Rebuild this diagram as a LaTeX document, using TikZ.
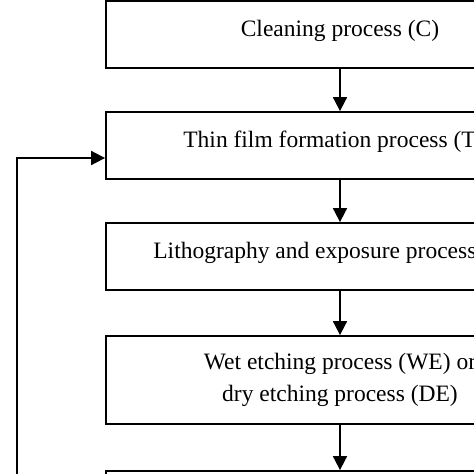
\documentclass[tikz,border=0pt]{standalone}
\usepackage{fontspec}
\setmainfont{Liberation Serif}
\usetikzlibrary{arrows.meta}

\tikzset{
  procbox/.style = {draw, line width=1.8pt, minimum width=468pt, minimum height=67pt,
                    inner sep=0pt, align=center,
                    font=\fontsize{23.5}{31.6}\selectfont},
  flow/.style = {line width=1.8pt, -{Triangle[length=14pt,width=14pt]}}
}

\begin{document}
\begin{tikzpicture}[x=1pt, y=-1pt]
    \clip (0,0) rectangle (474,474);

    \node[procbox, text depth=13pt] (clean) at (340, 34.5) {Cleaning process (C)};
    \node[procbox, text depth=13pt] (film) at (340, 145.5) {Thin film formation process (TF)};
    \node[procbox, text depth=13pt] (litho) at (340, 256.5) {Lithography and exposure process (LE)};
    \node[procbox, minimum height=88pt] (etch) at (340, 380) {Wet etching process (WE) or\\dry etching process (DE)};
    \node[procbox] (next) at (340, 504.5) {};

    \draw[flow] (clean) -- (film);
    \draw[flow] (film) -- (litho);
    \draw[flow] (litho) -- (etch);
    \draw[flow] (etch) -- (next);

    % feedback line from below
    \coordinate (loopbot) at (17, 490);
    \coordinate (looptop) at (17, 158);
    \draw[flow] (loopbot) -- (looptop) -- (looptop -| film.west);
\end{tikzpicture}
\end{document}
